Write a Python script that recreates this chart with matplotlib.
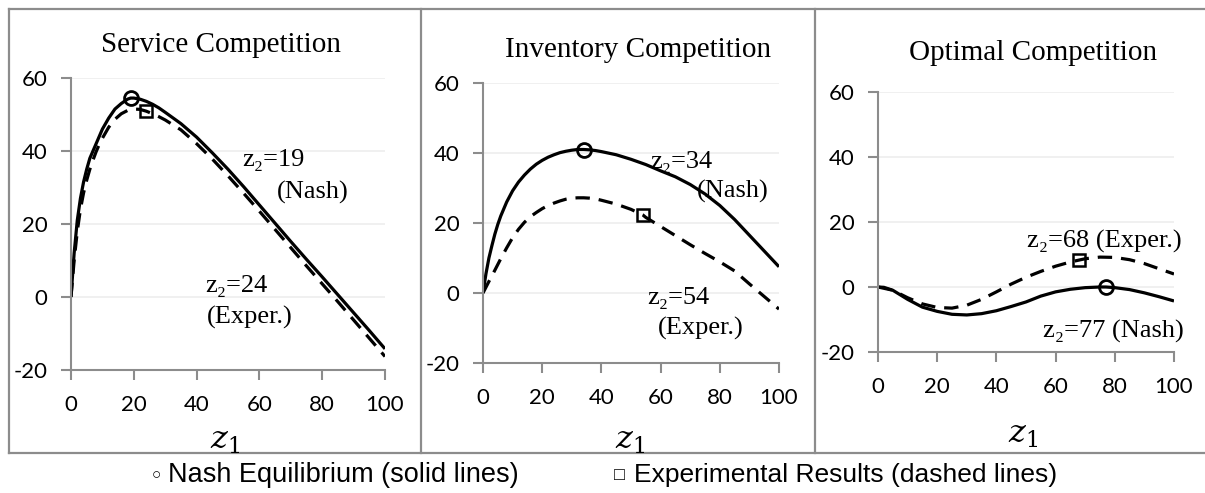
import numpy as np
import matplotlib
matplotlib.use('Agg')
import matplotlib.pyplot as plt
from matplotlib.lines import Line2D

plt.rcParams['axes.unicode_minus'] = False

########## Data ##########
# Service Competition
svc_nash_x = [0, 1, 2, 3, 4, 5, 6, 7, 8, 9, 10, 12, 14, 16, 18, 19, 20, 22, 24, 26, 28, 30,
              35, 40, 45, 50, 55, 60, 65, 70, 75, 80, 85, 90, 95, 100]
svc_nash_y = [0, 12, 21, 27, 31.5, 35, 38, 40, 42, 44, 46, 49, 51.5, 53, 54.2, 54.5, 54.5, 54.2,
              53.6, 52.8, 51.8, 50.6, 47.5, 43.8, 39.5, 35, 30.2, 25.2, 20.2, 15.2, 10.3, 5.5,
              0.6, -4.3, -9.2, -14.2]
svc_exp_x = [0, 1, 2, 3, 4, 5, 6, 7, 8, 9, 10, 12, 14, 16, 18, 20, 22, 24, 26, 28, 30,
             35, 40, 45, 50, 55, 60, 65, 70, 75, 80, 85, 90, 95, 100]
svc_exp_y = [0, 10, 18, 24, 28.5, 32, 35, 37.5, 39.8, 41.8, 43.5, 46.5, 48.7, 50.2, 51.1, 51.5,
             51.4, 50.9, 50.2, 49.4, 48.5, 45.8, 42, 37.8, 33.2, 28.4, 23.5, 18.5, 13.5, 8.5,
             3.6, -1.3, -6.3, -11.3, -16.3]

# Inventory Competition
inv_nash_x = [0, 1, 2, 3, 4, 5, 6, 8, 10, 12, 14, 16, 18, 20, 22, 24, 26, 28, 30, 32, 34, 36,
              38, 40, 45, 50, 55, 60, 65, 70, 75, 80, 85, 90, 95, 100]
inv_nash_y = [0, 5.5, 10, 13.5, 16.8, 19.6, 22, 26, 29.2, 31.7, 33.7, 35.4, 36.8, 37.9, 38.8,
              39.5, 40.1, 40.5, 40.8, 41, 41, 40.9, 40.7, 40.4, 39.5, 38.2, 36.7, 34.9, 33.2,
              31, 28.3, 25, 21, 16.5, 12, 7.5]
inv_exp_x = [0, 2, 4, 6, 8, 10, 12, 14, 16, 18, 20, 22, 24, 26, 28, 30, 32, 34, 36, 38, 40,
             45, 50, 54, 55, 60, 65, 70, 75, 80, 85, 90, 95, 100]
inv_exp_y = [0, 3.3, 6.5, 9.8, 12.9, 15.8, 18.2, 20.2, 21.8, 23, 24.1, 25, 25.7, 26.3, 26.8,
             27.1, 27.2, 27.2, 27.1, 26.9, 26.5, 25.4, 23.9, 22.3, 21.6, 19, 16.4, 13.8, 11.3,
             8.9, 6.3, 2.6, -1, -4.6]

# Optimal Competition
opt_nash_x = [0, 2, 5, 10, 15, 20, 25, 30, 35, 40, 45, 50, 55, 60, 65, 70, 75, 77, 80, 85, 90, 95, 100]
opt_nash_y = [0, -0.1, -1, -3.8, -6.2, -7.5, -8.4, -8.6, -8.2, -7.3, -6, -4.6, -2.8, -1.5, -0.7,
              -0.2, 0, 0, -0.2, -0.8, -1.8, -3, -4.3]
opt_exp_x = [0, 5, 10, 15, 20, 25, 30, 35, 40, 45, 50, 55, 60, 65, 68, 70, 75, 80, 85, 90, 95, 100]
opt_exp_y = [0, -1, -3.3, -5.2, -6.3, -6.5, -5.6, -3.8, -1.5, 0.9, 3, 4.8, 6.4, 7.7, 8.3, 8.7,
             9.2, 9.1, 8.4, 7.2, 5.6, 4]

titles = ['Service Competition', 'Inventory Competition', 'Optimal Competition']
nash_pts = [(19, 54.5), (34, 41), (77, 0)]
exp_pts = [(24, 50.9), (54, 22.3), (68, 8.2)]
yticks = [-20, 0, 20, 40, 60]
xticks = [0, 20, 40, 60, 80, 100]
legend_nash = 'Nash Equilibrium (solid lines)'
legend_exp = 'Experimental Results (dashed lines)'

curves = [(svc_nash_x, svc_nash_y, svc_exp_x, svc_exp_y),
          (inv_nash_x, inv_nash_y, inv_exp_x, inv_exp_y),
          (opt_nash_x, opt_nash_y, opt_exp_x, opt_exp_y)]

# annotation texts: (text, left x px, centre y px)
notes = [
    [('z\u2082=19', 242, 160), ('(Nash)', 277, 192),
     ('z\u2082=24', 205, 286), ('(Exper.)', 207, 317)],
    [('z\u2082=34', 650, 162), ('(Nash)', 697, 191),
     ('z\u2082=54', 647, 298), ('(Exper.)', 658, 328)],
    [('z\u2082=68 (Exper.)', 1027, 241), ('z\u2082=77 (Nash)', 1043, 331)],
]

########## Layout (pixels) ##########
W, H = 1205, 493
ax_px = [(71, 385, 78, 370), (483, 779, 83, 363), (878, 1174, 92, 352)]
title_px = [(221, 45), (638, 50), (1033, 53)]
zlab_px = [(225, 440), (630, 440), (1023, 434)]

serif = ['Liberation Serif', 'DejaVu Serif']
sans = ['Lato', 'DejaVu Sans']
arial = ['Liberation Sans', 'DejaVu Sans']
gray = '#8c8c8c'

fig = plt.figure(figsize=(W / 100, H / 100), dpi=100)

def fx(px):
    return px / W

def fy(py):
    return 1 - py / H

# panel frames
for x0 in [9, 421, 815]:
    fig.add_artist(Line2D([fx(x0), fx(x0)], [fy(9), fy(453)], color=gray, lw=1.6))
fig.add_artist(Line2D([fx(9), 1], [fy(9), fy(9)], color=gray, lw=1.6))
fig.add_artist(Line2D([fx(9), 1], [fy(453), fy(453)], color=gray, lw=1.6))

for i in range(3):
    l, r, t, b = ax_px[i]
    ax = fig.add_axes([fx(l), fy(b), fx(r - l), (b - t) / H])
    nx, ny, ex, ey = curves[i]
    ax.plot(nx, ny, color='black', lw=2.3, solid_capstyle='butt')
    ax.plot(ex, ey, color='black', lw=2.3, dashes=(4.5, 2.8))
    ax.plot(*nash_pts[i], marker='o', ms=10, mfc='none', mec='black', mew=2, zorder=5)
    ax.plot(*exp_pts[i], marker='s', ms=9, mfc='none', mec='black', mew=1.8, zorder=5)
    ax.set_xlim(0, 100)
    ax.set_ylim(-20, 60)
    ax.set_xticks(xticks)
    ax.set_yticks(yticks)
    ax.grid(axis='y', color='#eeeeee', lw=1.2)
    ax.set_axisbelow(True)
    for s in ['top', 'right']:
        ax.spines[s].set_visible(False)
    for s in ['left', 'bottom']:
        ax.spines[s].set_color(gray)
        ax.spines[s].set_linewidth(1.5)
    ax.tick_params(colors=gray, width=1.5, length=7, labelcolor='black', labelsize=16)
    ax.tick_params(axis='y', pad=10)
    ax.tick_params(axis='x', pad=11)
    for lab in ax.get_xticklabels() + ax.get_yticklabels():
        lab.set_family(sans)
    ax.patch.set_alpha(0)

    tx, ty = title_px[i]
    fig.text(fx(tx), fy(ty), titles[i], ha='center', va='center', family=serif, fontsize=21)
    zx, zy = zlab_px[i]
    fig.text(fx(zx), fy(zy), r'$z_1$', ha='center', va='center', fontsize=23,
             math_fontfamily='dejavuserif')
    for txt, px, py in notes[i]:
        fig.text(fx(px), fy(py), txt, ha='left', va='center', family=serif, fontsize=19)

fig.text(fx(156), fy(475), '\u25cb', ha='center', va='center', family=arial, fontsize=11)
fig.text(fx(168), fy(475), legend_nash, ha='left', va='center', family=arial, fontsize=19.5)
fig.text(fx(619), fy(475), '\u25a1', ha='center', va='center', family=arial, fontsize=13)
fig.text(fx(634), fy(475), legend_exp, ha='left', va='center', family=arial, fontsize=19)

fig.savefig('out.png', dpi=100)
